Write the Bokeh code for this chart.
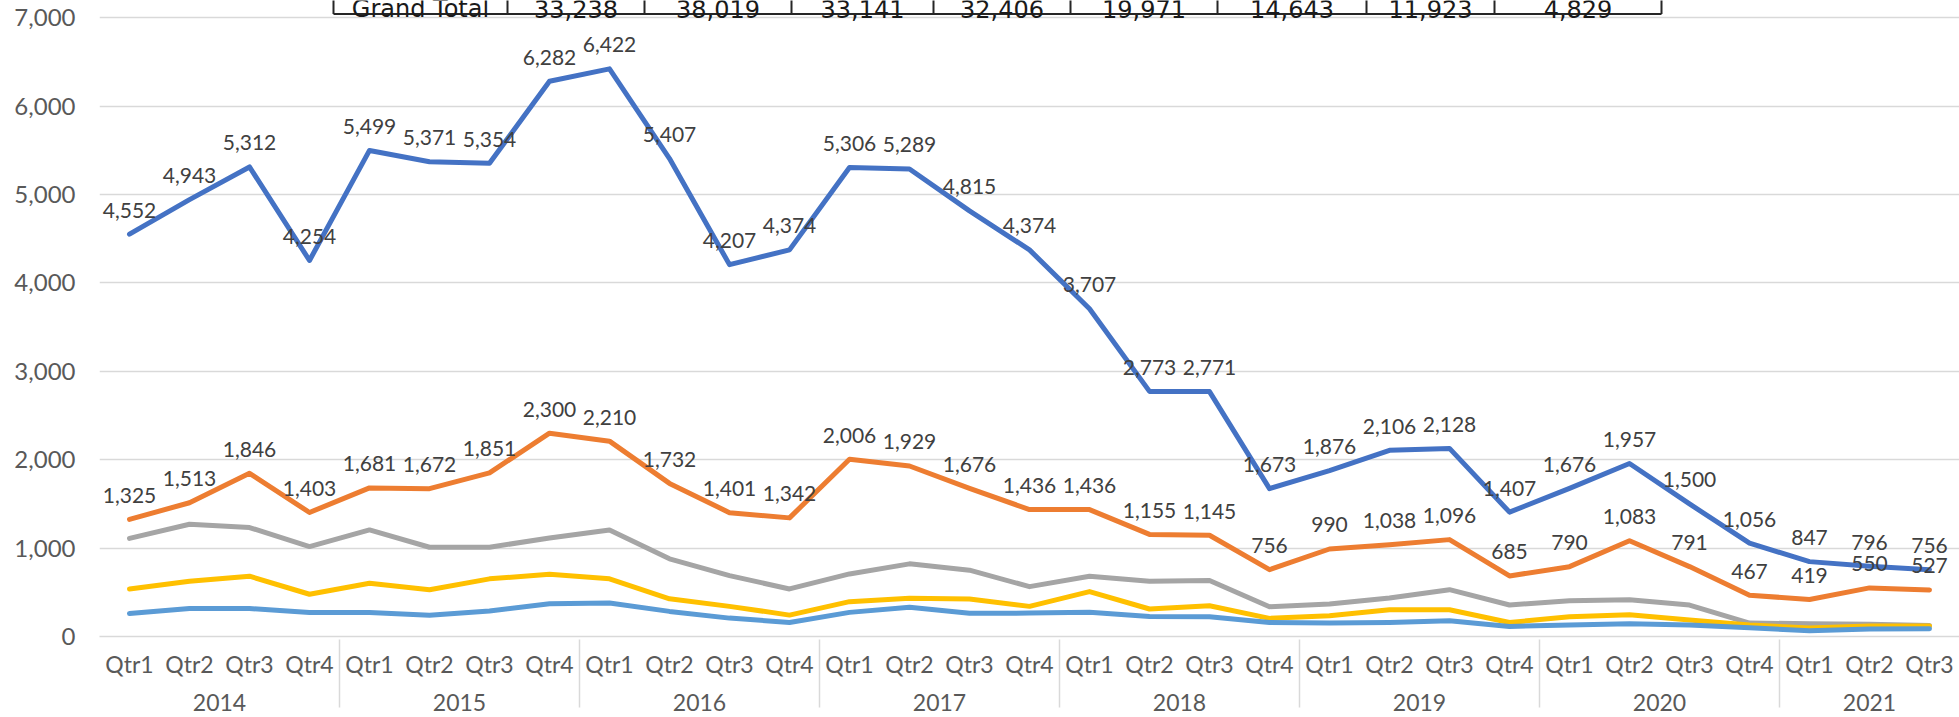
from bokeh.plotting import figure
from bokeh.models import FactorRange, Range1d, ColumnDataSource, FixedTicker, NumeralTickFormatter
from bokeh.embed import file_html
from bokeh.resources import INLINE
from bokeh.core.properties import value

# ---------------- data ----------------
YEARS = ["2014", "2015", "2016", "2017", "2018", "2019", "2020", "2021"]
QUARTERS = ["Qtr1", "Qtr2", "Qtr3", "Qtr4"]
N_PERIODS = 31  # 2021 ends at Qtr3
PERIODS = [(y, q) for y in YEARS for q in QUARTERS][:N_PERIODS]

SERIES_BLUE = [4552, 4943, 5312, 4254, 5499, 5371, 5354, 6282,
               6422, 5407, 4207, 4374, 5306, 5289, 4815, 4374,
               3707, 2773, 2771, 1673, 1876, 2106, 2128, 1407,
               1676, 1957, 1500, 1056, 847, 796, 756]
SERIES_ORANGE = [1325, 1513, 1846, 1403, 1681, 1672, 1851, 2300,
                 2210, 1732, 1401, 1342, 2006, 1929, 1676, 1436,
                 1436, 1155, 1145, 756, 990, 1038, 1096, 685,
                 790, 1083, 791, 467, 419, 550, 527]
SERIES_GRAY = [1110, 1270, 1233, 1017, 1206, 1010, 1010, 1115,
               1206, 879, 689, 538, 708, 822, 750, 564,
               682, 625, 633, 337, 367, 436, 530, 356,
               405, 417, 356, 152, 145, 140, 125]
SERIES_YELLOW = [538, 625, 682, 478, 602, 528, 652, 703,
                 652, 426, 341, 242, 394, 432, 424, 341,
                 508, 311, 348, 205, 235, 303, 303, 159,
                 223, 246, 186, 129, 95, 120, 120]
SERIES_LIGHTBLUE = [260, 316, 316, 271, 271, 240, 288, 371,
                    379, 284, 208, 159, 273, 330, 262, 265,
                    273, 227, 223, 159, 152, 159, 178, 114,
                    129, 144, 129, 98, 65, 85, 87]

Y_TICKS = [0, 1000, 2000, 3000, 4000, 5000, 6000, 7000]

TABLE_HEADER = "Grand Total"
TABLE_TOTALS = [33238, 38019, 33141, 32406, 19971, 14643, 11923, 4829]

# ---------------- layout / style ----------------
W, H = 1959, 717
BORDER_LEFT = 99
BORDER_BOTTOM = 81
FRAME_H = H - BORDER_BOTTOM
FRAME_W = W - BORDER_LEFT
PX_PER_UNIT = 618.75 / 7000.0
Y_END = FRAME_H / PX_PER_UNIT
PX_PER_CAT = FRAME_W / N_PERIODS

FONT = "Lato"
AXIS_COLOR = "#595959"
LABEL_COLOR = "#404040"
GRID_COLOR = "#D9D9D9"

# pivot-table cell edges (canvas pixels), bottom border and text baseline
TABLE_EDGES_PX = [333, 507, 644, 791, 933, 1070, 1217, 1366, 1494, 1661]
TABLE_BOTTOM_PX = 13.5
TABLE_TEXT_PX = 8.5


def px_to_syn(px):
    return (px - BORDER_LEFT) / PX_PER_CAT


def py_to_data(py):
    return (FRAME_H - py) / PX_PER_UNIT


x_range = FactorRange(*PERIODS, range_padding=0, factor_padding=0,
                      group_padding=0, subgroup_padding=0)

p = figure(width=W, height=H, x_range=x_range, y_range=Range1d(0, Y_END),
           output_backend="svg", toolbar_location=None, title=None,
           min_border_left=BORDER_LEFT, min_border_right=0,
           min_border_top=0, min_border_bottom=BORDER_BOTTOM)
p.outline_line_color = None
p.background_fill_color = "white"
p.border_fill_color = "white"

# y axis
p.yaxis.ticker = FixedTicker(ticks=Y_TICKS)
p.yaxis.formatter = NumeralTickFormatter(format="0,0")
p.yaxis.axis_line_color = None
p.yaxis.major_tick_line_color = None
p.yaxis.minor_tick_line_color = None
p.yaxis.major_tick_out = 0
p.yaxis.major_tick_in = 0
p.yaxis.major_label_standoff = 24
p.yaxis.major_label_text_font = FONT
p.yaxis.major_label_text_font_size = "24px"
p.yaxis.major_label_text_color = AXIS_COLOR

p.ygrid.grid_line_color = GRID_COLOR
p.ygrid.grid_line_width = 1.5
p.xgrid.visible = False

# x axis (two-level categories)
xa = p.xaxis[0]
xa.axis_line_color = GRID_COLOR
xa.axis_line_width = 1.5
xa.major_tick_line_color = None
xa.major_tick_out = 0
xa.major_tick_in = 0
xa.major_label_standoff = 13
xa.major_label_text_font = FONT
xa.major_label_text_font_size = "23px"
xa.major_label_text_color = AXIS_COLOR
xa.group_text_font = FONT
xa.group_text_font_size = "23px"
xa.group_text_color = AXIS_COLOR
xa.group_text_font_style = "normal"
xa.separator_line_color = GRID_COLOR
xa.separator_line_width = 1.5

# lines (later series drawn on top, as in the original)
series = [
    (SERIES_BLUE, "#4472C4"),
    (SERIES_ORANGE, "#ED7D31"),
    (SERIES_GRAY, "#A5A5A5"),
    (SERIES_YELLOW, "#FFC000"),
    (SERIES_LIGHTBLUE, "#5B9BD5"),
]
for vals, col in series:
    src = ColumnDataSource(data=dict(x=PERIODS, y=vals))
    p.line(x="x", y="y", source=src, line_color=col, line_width=5,
           line_join="round", line_cap="round")

# data labels for the two upper series
for vals in (SERIES_BLUE, SERIES_ORANGE):
    src = ColumnDataSource(data=dict(x=PERIODS, y=vals,
                                     t=[f"{v:,}" for v in vals]))
    p.text(x="x", y="y", text="t", source=src, y_offset=-24,
           text_align="center", text_baseline="middle",
           text_font=value(FONT), text_font_size="21px",
           text_color=LABEL_COLOR)

# pivot-table row at the top, cut by the top edge as in the original
edges = [px_to_syn(e) for e in TABLE_EDGES_PX]
yb = py_to_data(TABLE_BOTTOM_PX)
yt = py_to_data(-20)
p.segment(x0=[edges[0]], y0=[yb], x1=[edges[-1]], y1=[yb],
          line_color="#262626", line_width=2)
p.segment(x0=edges, y0=[yb] * len(edges), x1=edges, y1=[yt] * len(edges),
          line_color="#262626", line_width=2)
cells = [TABLE_HEADER] + [f"{v:,}" for v in TABLE_TOTALS]
centers = [(a + b) / 2 for a, b in zip(edges[:-1], edges[1:])]
p.text(x=centers, y=[py_to_data(TABLE_TEXT_PX)] * len(cells),
       text=cells, text_align="center", text_baseline="alphabetic",
       text_font=value("DejaVu Sans"), text_font_size="24px",
       text_color="#1a1a1a")

open("out.html", "w").write(file_html(p, INLINE))
